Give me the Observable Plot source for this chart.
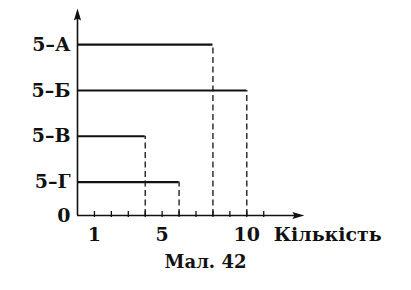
<!DOCTYPE html>
<html>
<head>
<meta charset="utf-8">
<script src="https://cdn.jsdelivr.net/npm/d3@7"></script>
<script src="https://cdn.jsdelivr.net/npm/@observablehq/plot@0.6"></script>
<style>
  body { margin: 0; background: #fff; }
  #caption { width: 411px; height: 34px; line-height: 34px; padding-top: 6px; text-align: center;
    font: bold 18px "DejaVu Serif", serif; color: #111; }
</style>
</head>
<body>
<div id="chart"></div>
<div id="caption">Мал. 42</div>
<script>
// Data
const classes = ["5–А", "5–Б", "5–В", "5–Г"];
const counts = [8, 10, 4, 6];
const xTickLabels = [1, 5, 10];
const xMinorTicks = [1, 2, 3, 4, 5, 6, 7, 8, 9, 10, 11];
const xLabel = "Кількість";
const originLabel = "0";

const base = 0.27;     // y value of the horizontal axis
const yTop = 4.79;     // top of vertical axis (arrow tip)
const xEnd = 13.4;     // end of horizontal axis (arrow tip)

const rows = classes.map((c, i) => ({ cls: c, count: counts[i], pos: classes.length - i }));

const arrowHead = {
  draw(context) {
    context.moveTo(0, 0);
    context.lineTo(-3.6, 12);
    context.lineTo(0, 10);
    context.lineTo(3.6, 12);
    context.closePath();
  }
};

const font = "DejaVu Serif";
const ink = "#111";

const chart = Plot.plot({
  width: 411,
  height: 245,
  marginLeft: 77,
  marginRight: 411 - 77 - 13.5 * 16.93,
  marginTop: 8,
  marginBottom: 30,
  x: { domain: [0, 13.5], axis: null },
  y: { domain: [base, yTop], axis: null },
  style: { fontFamily: font, fontSize: "19px", fontWeight: "bold", color: ink, overflow: "visible" },
  marks: [
    // dashed drop lines
    Plot.ruleX(rows, { x: "count", y1: base, y2: "pos", stroke: ink, strokeWidth: 1.3, strokeDasharray: "6,3.5" }),
    // horizontal bars
    Plot.ruleY(rows, { y: "pos", x1: 0, x2: "count", stroke: ink, strokeWidth: 2.2 }),
    // axes lines
    Plot.ruleX([0], { y1: base, y2: yTop - 0.1, stroke: ink, strokeWidth: 1.6 }),
    Plot.ruleY([base], { x1: 0, x2: xEnd - 0.3, stroke: ink, strokeWidth: 1.6 }),
    // arrow heads
    Plot.dot([{ x: 0, y: yTop }], { x: "x", y: "y", symbol: arrowHead, fill: ink, stroke: "none", r: 5 }),
    Plot.dot([{ x: xEnd, y: base }], { x: "x", y: "y", symbol: arrowHead, fill: ink, stroke: "none", r: 5, rotate: 90 }),
    // minor ticks
    Plot.ruleX(xMinorTicks, { x: d => d, y1: base - 2 / 45.8, y2: base + 4 / 45.8, stroke: ink, strokeWidth: 1.3 }),
    // x tick labels
    Plot.text(xTickLabels, { x: d => d, y: base, dy: 19, text: d => String(d), fill: ink, fontSize: 19, lineAnchor: "middle" }),
    // axis title
    Plot.text([xLabel], { x: 10, y: base, dx: 27, dy: 19, text: d => d, textAnchor: "start", fill: ink, fontSize: 19, lineAnchor: "middle" }),
    // y labels
    Plot.text(rows, { x: 0, y: "pos", dx: -7, text: "cls", textAnchor: "end", fill: ink, fontSize: 19, lineAnchor: "middle" }),
    Plot.text([originLabel], { x: 0, y: base, dx: -7, text: d => d, textAnchor: "end", fill: ink, fontSize: 19, lineAnchor: "middle" })
  ]
});
document.getElementById("chart").appendChild(chart);
</script>
</body>
</html>
